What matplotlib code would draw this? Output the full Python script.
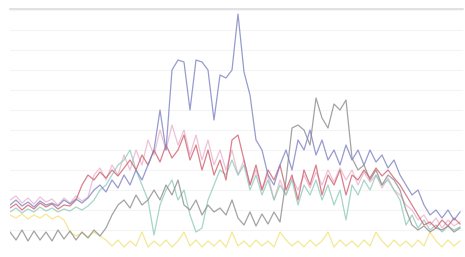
import numpy as np
import matplotlib
matplotlib.use('Agg')
import matplotlib.pyplot as plt

# values, one point per sample
blue = [45,50,44,48,43,49,45,47,44,50,46,51,47,52,60,65,58,70,62,75,65,80,70,85,100,140,100,180,190,188,
        140,190,188,180,130,175,172,180,236,178,155,110,100,75,65,85,100,80,110,100,120,95,110,90,100,85,
        105,90,100,85,100,88,95,82,90,75,65,55,60,45,35,40,32,40,30,38]
gray = [18,10,20,9,19,10,18,9,20,11,19,10,18,12,20,14,22,35,45,50,42,55,45,50,60,50,65,55,70,45,40,50,
        35,45,38,42,35,50,32,25,38,24,36,26,38,28,70,122,125,120,105,152,132,122,146,140,150,92,80,85,70,
        80,65,75,70,60,40,25,20,24,18,22,20,24,18,22]
red = [42,46,40,45,41,47,43,46,41,45,44,50,65,75,70,78,72,80,74,82,90,80,95,85,100,88,105,92,100,115,
       90,105,80,100,75,90,70,110,115,90,65,85,60,80,70,85,60,75,50,80,65,85,55,75,65,80,55,75,70,80,
       72,82,74,80,72,65,55,45,35,25,28,22,30,24,32,26]
teal = [38,42,37,41,38,43,39,42,38,41,39,43,40,44,50,60,65,75,85,90,100,80,65,50,15,45,60,70,50,60,
        35,18,22,50,65,80,75,90,75,85,60,75,55,70,50,65,55,70,45,65,55,70,50,65,45,60,30,65,55,70,
        60,75,65,70,60,50,25,35,22,30,20,25,18,24,20,23]
yellow = [35,32,36,31,35,32,36,31,34,30,18,14,17,13,18,14,10,
          4,10,3,9,4,18,3,9,4,10,3,9,18,4,10,3,9,4,10,3,18,4,9,3,10,4,9,3,18,10,
          4,9,3,10,4,9,18,3,10,4,9,3,10,4,18,9,3,10,4,9,3,10,4,18,9,3,10,4,9]
pink = [50,54,47,52,46,53,48,51,45,52,47,54,49,53,75,82,70,85,75,95,80,100,85,110,95,120,100,125,105,120,
        95,115,90,110,85,100,80,100,75,90,65,80,60,75,50,70,55,72,60,75,62,78,65,80,68,82,70,80,65,78,
        68,75,62,72,60,55,45,40,30,35,25,32,22,30,24,28]

series = [
    (yellow, '#f2e27a'),
    (pink, '#e9b3cd'),
    (teal, '#8fcbbb'),
    (gray, '#8c8c8c'),
    (red, '#d0606f'),
    (blue, '#7e82c2'),
]

fig = plt.figure(figsize=(4.65, 2.57), dpi=100)
ax = fig.add_axes([10/465, 7/257, 453/465, 241/257])
x = np.arange(len(blue))
for ys, c in series:
    ax.plot(x, ys, color=c, lw=0.9, alpha=0.8)

ax.set_xlim(0, 75.5)
ax.set_ylim(0, 241)
ax.set_yticks(np.arange(20, 241, 20))
ax.grid(axis='y', color='#f4f4f4', lw=0.8)
ax.set_axisbelow(True)
ax.tick_params(length=0, labelleft=False, labelbottom=False)
for s in ['left', 'right', 'bottom']:
    ax.spines[s].set_visible(False)
ax.spines['top'].set_color('#dddddd')
ax.spines['top'].set_linewidth(1.2)

fig.savefig('out.png', dpi=100)
